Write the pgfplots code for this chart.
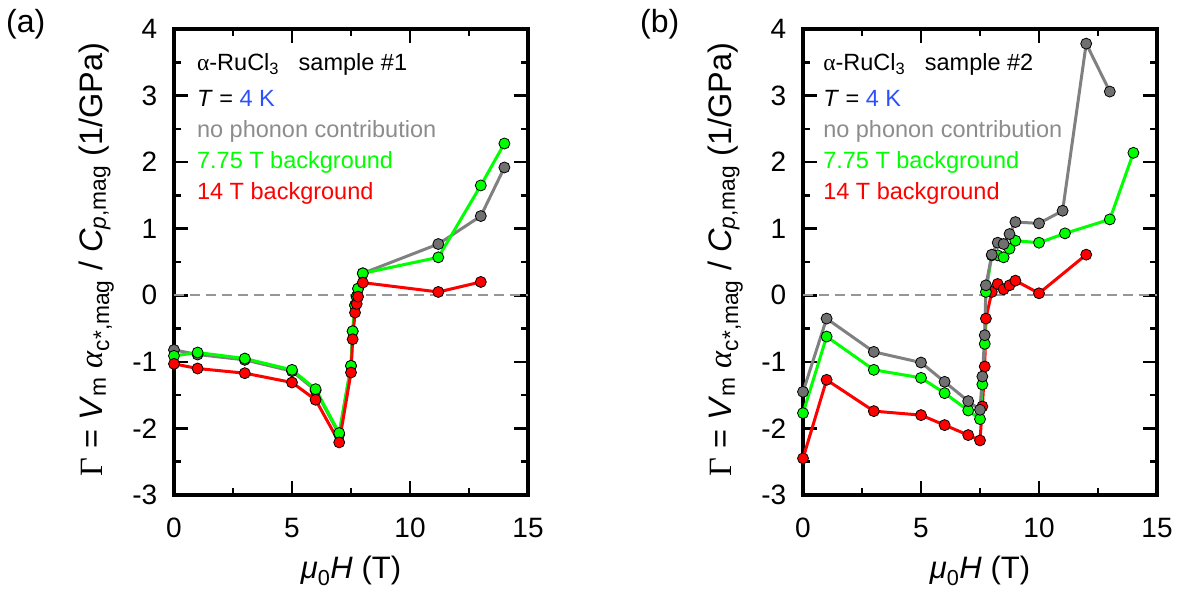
\documentclass[border=0pt]{standalone}
\usepackage{fontspec}
\setmainfont{Liberation Sans}
\newfontfamily\serif{Liberation Serif}
\usepackage{pgfplots}
\pgfplotsset{compat=1.18}

\definecolor{mygray}{RGB}{128,128,128}
\definecolor{markgray}{RGB}{112,112,112}
\definecolor{mygreen}{RGB}{0,255,0}
\definecolor{myred}{RGB}{255,0,0}
\definecolor{myblue}{RGB}{45,80,255}
\definecolor{txtgray}{RGB}{140,140,140}
\definecolor{zerogray}{RGB}{150,150,150}

\pgfplotsset{
  panel/.style={
    scale only axis, width=354pt, height=466pt,
    xmin=0, xmax=15, ymin=-3, ymax=4,
    xtick={0,5,10,15}, ytick={-3,-2,-1,0,1,2,3,4},
    xticklabels={0,5,10,15}, yticklabels={-3,-2,-1,0,1,2,3,4},
    minor x tick num=1, minor y tick num=1,
    tick align=inside,
    major tick length=14pt, minor tick length=7pt,
    axis line style={line width=3.5pt},
    every tick/.style={black, line width=2.5pt},
    ticklabel style={font=\fontsize{28}{28}\selectfont, inner sep=0pt},
    xticklabel style={yshift=-23pt},
    yticklabel style={xshift=-16.5pt},
    /pgf/number format/assume math mode=true,
    clip=false,
  },
  ser/.style 2 args={line width=3pt, color=#1, mark=*, mark size=5.5pt,
    mark options={draw=black, fill=#2, line width=0.8pt}},
}

\newcommand{\legfont}{\fontsize{23.5}{23.5}\selectfont}

\begin{document}
\begin{tikzpicture}
\useasboundingbox (0,0) rectangle (1190pt,602pt);
\node[anchor=base west, inner sep=0pt, font=\fontsize{32}{32}\selectfont] at (6pt,569pt) {(a)};
\node[anchor=base west, inner sep=0pt, font=\fontsize{32}{32}\selectfont] at (640pt,569pt) {(b)};

% ---------- panel (a) ----------
\begin{axis}[panel, at={(174pt,107pt)}, anchor=south west]
\addplot[color=zerogray, line width=2pt, dash pattern=on 10pt off 6pt] coordinates {(0,0) (15,0)};
\addplot[ser={mygray}{markgray}] coordinates {
(0,-0.82)(1,-0.89)(3,-0.97)(5,-1.14)(6,-1.43)(7,-2.09)(7.5,-1.06)(7.57,-0.54)(7.67,-0.15)(7.74,-0.02)(7.8,0.10)(8.0,0.33)(11.2,0.77)(13,1.19)(14,1.92)};
\addplot[ser={mygreen}{mygreen}] coordinates {
(0,-0.91)(1,-0.86)(3,-0.95)(5,-1.12)(6,-1.41)(7,-2.07)(7.5,-1.06)(7.57,-0.54)(7.67,-0.15)(7.74,-0.02)(7.8,0.10)(8.0,0.33)(11.2,0.57)(13,1.65)(14,2.28)};
\addplot[ser={myred}{myred}] coordinates {
(0,-1.03)(1,-1.10)(3,-1.17)(5,-1.31)(6,-1.57)(7,-2.21)(7.5,-1.16)(7.57,-0.66)(7.67,-0.26)(7.74,-0.13)(7.8,-0.02)(8.0,0.19)(11.2,0.05)(13,0.20)};
\node[anchor=base west, inner sep=0pt, font=\legfont] at (axis cs:0.97,3.37) {{\serif α}-RuCl\textsubscript{3}\ \ \ sample \#1};
\node[anchor=base west, inner sep=0pt, font=\legfont] at (axis cs:0.97,2.83) {\textit{T} = \textcolor{myblue}{4 K}};
\node[anchor=base west, inner sep=0pt, font=\legfont, text=txtgray] at (axis cs:0.97,2.37) {no phonon contribution};
\node[anchor=base west, inner sep=0pt, font=\legfont, text=mygreen] at (axis cs:0.97,1.90) {7.75 T background};
\node[anchor=base west, inner sep=0pt, font=\legfont, text=myred] at (axis cs:0.97,1.44) {14 T background};
\node[rotate=90, anchor=base, inner sep=0pt, font=\fontsize{32.5}{32.5}\selectfont] at (axis description cs:-0.203,0.505)
  {{\serif Γ} = \textit{V}\textsubscript{m} {\serif\itshape α}\textsubscript{c*,mag} / \textit{C}\textsubscript{\textit{p},mag} (1/GPa)};
\node[anchor=base, inner sep=0pt, font=\fontsize{31}{31}\selectfont] at (axis description cs:0.5,-0.18)
  {\textit{μ}\textsubscript{0}\textit{H} (T)};
\end{axis}

% ---------- panel (b) ----------
\begin{axis}[panel, at={(803pt,107pt)}, anchor=south west]
\addplot[color=zerogray, line width=2pt, dash pattern=on 10pt off 6pt] coordinates {(0,0) (15,0)};
\addplot[ser={myred}{myred}] coordinates {
(0,-2.45)(1,-1.27)(3,-1.74)(5,-1.80)(6,-1.95)(7,-2.10)(7.5,-2.18)(7.6,-1.67)(7.7,-1.07)(7.75,-0.35)(8.0,0.05)(8.25,0.17)(8.5,0.09)(8.75,0.15)(9,0.22)(10,0.03)(12,0.61)};
\addplot[ser={mygreen}{mygreen}] coordinates {
(0,-1.77)(1,-0.62)(3,-1.12)(5,-1.24)(6,-1.47)(7,-1.73)(7.5,-1.86)(7.6,-1.34)(7.7,-0.73)(7.75,0.05)(8.0,0.60)(8.25,0.60)(8.5,0.57)(8.75,0.70)(9,0.82)(10,0.79)(11.1,0.93)(13,1.14)(14,2.14)};
\addplot[ser={mygray}{markgray}] coordinates {
(0,-1.45)(1,-0.35)(3,-0.85)(5,-1.01)(6,-1.30)(7,-1.59)(7.5,-1.72)(7.6,-1.22)(7.7,-0.60)(7.75,0.15)(8.0,0.61)(8.25,0.79)(8.5,0.77)(8.75,0.92)(9,1.10)(10,1.08)(11,1.27)(12,3.78)(13,3.06)};
\node[anchor=base west, inner sep=0pt, font=\legfont] at (axis cs:0.85,3.37) {{\serif α}-RuCl\textsubscript{3}\ \ \ sample \#2};
\node[anchor=base west, inner sep=0pt, font=\legfont] at (axis cs:0.85,2.83) {\textit{T} = \textcolor{myblue}{4 K}};
\node[anchor=base west, inner sep=0pt, font=\legfont, text=txtgray] at (axis cs:0.85,2.37) {no phonon contribution};
\node[anchor=base west, inner sep=0pt, font=\legfont, text=mygreen] at (axis cs:0.85,1.90) {7.75 T background};
\node[anchor=base west, inner sep=0pt, font=\legfont, text=myred] at (axis cs:0.85,1.44) {14 T background};
\node[rotate=90, anchor=base, inner sep=0pt, font=\fontsize{32.5}{32.5}\selectfont] at (axis description cs:-0.203,0.505)
  {{\serif Γ} = \textit{V}\textsubscript{m} {\serif\itshape α}\textsubscript{c*,mag} / \textit{C}\textsubscript{\textit{p},mag} (1/GPa)};
\node[anchor=base, inner sep=0pt, font=\fontsize{31}{31}\selectfont] at (axis description cs:0.5,-0.18)
  {\textit{μ}\textsubscript{0}\textit{H} (T)};
\end{axis}
\end{tikzpicture}
\end{document}
